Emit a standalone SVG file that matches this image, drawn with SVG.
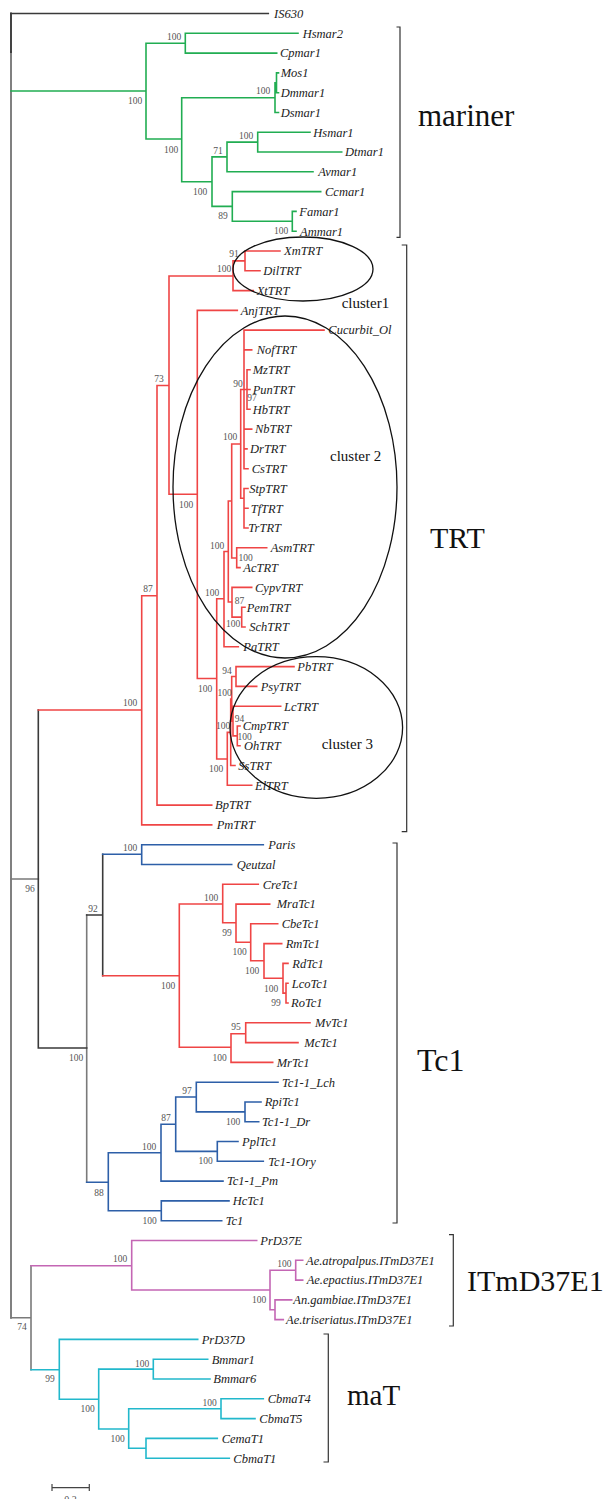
<svg xmlns="http://www.w3.org/2000/svg" width="605" height="1499" viewBox="0 0 605 1499">
<style>
.br{fill:none;stroke-width:1.6;stroke-linecap:square}
.k{stroke:#3a3a3a}.gy{stroke:#7a7a7a}.g{stroke:#21ad52}.r{stroke:#ef4545}.b{stroke:#2d5fa8}.m{stroke:#c466b4}.c{stroke:#22b8cc}
.lf{font-family:"Liberation Serif",serif;font-style:italic;font-size:12.5px;fill:#222}
.bs{font-family:"Liberation Serif",serif;font-size:9.5px;fill:#555;text-anchor:middle}
.big{font-family:"Liberation Serif",serif;font-size:30px;fill:#111}
.cl{font-family:"Liberation Serif",serif;font-size:15px;fill:#111}
.brk{fill:none;stroke:#333;stroke-width:1.2}
.ell{fill:none;stroke:#111;stroke-width:1.3}
</style>
<rect width="605" height="1499" fill="#fff"/>
<g id="connectors">
<path class="br gy" style="stroke-width:1.9" d="M11 52 V1317.7"/>
<path class="br gy" d="M11 879 H38.3 M86.7 915 V1182.3 M11 1317.7 H31 M31 1265.7 V1369.7"/>
<path class="br k" d="M11 13.5 H268.3 M38.3 710 V1048 M38.3 1048 H86.7 M86.7 915 H102.7 M102.7 854.3 V975.7"/>
<path class="br k" style="stroke-width:1.9" d="M11 13.5 V52"/>
<path class="br g" d="M11 91 H146 M146 43.2 V139 M146 43.2 H185.3 M185.3 33.3 V53.1 M185.3 33.3 H298 M185.3 53.1 H276.7 M146 139 H181.7 M181.7 97.7 V181.7 M181.7 97.7 H275 M275 82.8 V112.5 M275 82.8 H276.5 M276.5 72.9 V92.7 M276.5 72.9 H278.5 M276.5 92.7 H278.5 M275 112.5 H278.5 M181.7 181.7 H212 M212 156.9 V206.4 M212 156.9 H227 M227 142.1 V171.8 M227 142.1 H257.7 M257.7 132.2 V152 M257.7 132.2 H310 M257.7 152 H341.7 M227 171.8 H313 M212 206.4 H232.3 M232.3 191.6 V221.3 M232.3 191.6 H320.7 M232.3 221.3 H292.3 M292.3 211.4 V231.2 M292.3 211.4 H296 M292.3 231.2 H296"/>
<path class="br r" d="M38.3 710 H141.7 M141.7 595.7 V824.9 M141.7 824.9 H211.7 M141.7 595.7 H157 M157 385.5 V805.1 M157 805.1 H211.7 M157 385.5 H169 M169 276 V494.3 M169 276 H233 M233 260.9 V290.6 M233 260.9 H245 M245 251 V270.8 M245 251 H280 M245 270.8 H260 M233 290.6 H253.3 M169 494.3 H197.3 M197.3 310.4 V678.5 M197.3 310.4 H237.3 M197.3 678.5 H216.7 M216.7 598.8 V759 M216.7 598.8 H224 M224 551.5 V646.8 M224 646.8 H238.3 M224 551.5 H228.3 M228.3 501 V602 M228.3 501 H231.7 M231.7 444 V558 M231.7 444 H240.7 M240.7 389.5 V498.2 M240.7 389.5 H244 M244 330.1 V468.7 M244 330.1 H324 M244 349.9 H251.7 M244 389.5 H247 M247 369.7 V409.3 M247 369.7 H250 M247 389.5 H250 M247 409.3 H250 M244 429.1 H251.7 M244 448.9 H247 M244 468.7 H248 M240.7 498.2 H244 M244 488.5 V528 M244 488.5 H248 M244 508.3 H248 M244 528 H248 M231.7 558 H236.7 M236.7 547.8 V567.6 M236.7 547.8 H266.7 M236.7 567.6 H240 M228.3 602 H232 M232 587.4 V617.1 M232 587.4 H251.7 M232 617.1 H241.7 M241.7 607.2 V627 M241.7 607.2 H245 M241.7 627 H245 M216.7 759 H227.3 M227.3 732.4 V785.3 M227.3 785.3 H251.7 M227.3 732.4 H230.7 M230.7 699 V765.5 M230.7 765.5 H235 M230.7 699 H231.7 M231.7 676.5 V721.1 M231.7 676.5 H236 M236 666.6 V686.4 M236 666.6 H294 M236 686.4 H256.7 M231.7 721.1 H233 M233 706.2 V735.9 M233 706.2 H280.7 M233 735.9 H237.3 M237.3 726 V745.7 M237.3 726 H240 M237.3 745.7 H240"/>
<path class="br r" d="M102.7 975.7 H179.3 M179.3 904 V1047.3 M179.3 904 H222.7 M222.7 884.3 V922.7 M222.7 884.3 H258.3 M222.7 922.7 H236 M236 904.1 V942.3 M236 904.1 H269.7 M236 942.3 H250.7 M250.7 923.8 V960.7 M250.7 923.8 H277.7 M250.7 960.7 H264 M264 943.6 V978.3 M264 943.6 H281.7 M264 978.3 H283 M283 963.4 V993.1 M283 963.4 H288 M283 993.1 H286 M286 983.2 V1003 M286 983.2 H288 M286 1003 H288 M179.3 1047.3 H231 M231 1033.7 V1062.4 M231 1062.4 H272.7 M231 1033.7 H245.7 M245.7 1022.8 V1042.6 M245.7 1022.8 H310 M245.7 1042.6 H298"/>
<path class="br b" d="M102.7 854.3 H141.7 M141.7 844.7 V864.5 M141.7 844.7 H263.3 M141.7 864.5 H231.7 M86.7 1182.3 H108.3 M108.3 1152.7 V1210.8 M108.3 1152.7 H161 M161 1124.3 V1181.1 M161 1181.1 H223 M161 1124.3 H175.7 M175.7 1097 V1151.4 M175.7 1097 H196.3 M196.3 1082.2 V1111.9 M196.3 1082.2 H278 M196.3 1111.9 H245 M245 1102 V1121.7 M245 1102 H261 M245 1121.7 H258.7 M175.7 1151.4 H217.3 M217.3 1141.5 V1161.3 M217.3 1141.5 H238 M217.3 1161.3 H263.3 M108.3 1210.8 H161.3 M161.3 1200.9 V1220.7 M161.3 1200.9 H229 M161.3 1220.7 H221.7"/>
<path class="br m" d="M31 1265.7 H131.7 M131.7 1240.5 V1290 M131.7 1240.5 H256.7 M131.7 1290 H270 M270 1270.2 V1309.8 M270 1270.2 H295.7 M295.7 1260.3 V1280.1 M295.7 1260.3 H302.7 M295.7 1280.1 H302.7 M270 1309.8 H275 M275 1299.9 V1319.6 M275 1299.9 H291.7 M275 1319.6 H283.3"/>
<path class="br c" d="M31 1369.7 H59.3 M59.3 1339.4 V1399.3 M59.3 1339.4 H197.7 M59.3 1399.3 H98.7 M98.7 1369.1 V1429 M98.7 1369.1 H153.3 M153.3 1359.2 V1379 M153.3 1359.2 H207.7 M153.3 1379 H210 M98.7 1429 H128.7 M128.7 1408.7 V1448.3 M128.7 1408.7 H221 M221 1398.8 V1418.6 M221 1398.8 H263.3 M221 1418.6 H255 M128.7 1448.3 H146 M146 1438.4 V1458.2 M146 1438.4 H217.3 M146 1458.2 H229.3"/>
</g>
<g id="leaf-IS630"><text class="lf" x="274" y="17.8">IS630</text></g>
<g id="leaf-Hsmar2"><text class="lf" x="302.7" y="37.6">Hsmar2</text></g>
<g id="leaf-Cpmar1"><text class="lf" x="280" y="57.4">Cpmar1</text></g>
<g id="leaf-Mos1"><text class="lf" x="280.7" y="77.2">Mos1</text></g>
<g id="leaf-Dmmar1"><text class="lf" x="280.7" y="97">Dmmar1</text></g>
<g id="leaf-Dsmar1"><text class="lf" x="280.7" y="116.8">Dsmar1</text></g>
<g id="leaf-Hsmar1"><text class="lf" x="313.3" y="136.5">Hsmar1</text></g>
<g id="leaf-Dtmar1"><text class="lf" x="345" y="156.3">Dtmar1</text></g>
<g id="leaf-Avmar1"><text class="lf" x="318.3" y="176.1">Avmar1</text></g>
<g id="leaf-Ccmar1"><text class="lf" x="325" y="195.9">Ccmar1</text></g>
<g id="leaf-Famar1"><text class="lf" x="299.3" y="215.7">Famar1</text></g>
<g id="leaf-Ammar1"><text class="lf" x="300" y="235.5">Ammar1</text></g>
<g id="leaf-XmTRT"><text class="lf" x="284" y="255.3">XmTRT</text></g>
<g id="leaf-DilTRT"><text class="lf" x="263.3" y="275.1">DilTRT</text></g>
<g id="leaf-XtTRT"><text class="lf" x="256.7" y="294.9">XtTRT</text></g>
<g id="leaf-AnjTRT"><text class="lf" x="240.7" y="314.7">AnjTRT</text></g>
<g id="leaf-Cucurbit_Ol"><text class="lf" x="328.3" y="334.4">Cucurbit_Ol</text></g>
<g id="leaf-NofTRT"><text class="lf" x="256.7" y="354.2">NofTRT</text></g>
<g id="leaf-MzTRT"><text class="lf" x="252.7" y="374">MzTRT</text></g>
<g id="leaf-PunTRT"><text class="lf" x="252.7" y="393.8">PunTRT</text></g>
<g id="leaf-HbTRT"><text class="lf" x="252.7" y="413.6">HbTRT</text></g>
<g id="leaf-NbTRT"><text class="lf" x="255" y="433.4">NbTRT</text></g>
<g id="leaf-DrTRT"><text class="lf" x="250" y="453.2">DrTRT</text></g>
<g id="leaf-CsTRT"><text class="lf" x="251.7" y="473">CsTRT</text></g>
<g id="leaf-StpTRT"><text class="lf" x="249.3" y="492.8">StpTRT</text></g>
<g id="leaf-TfTRT"><text class="lf" x="250.7" y="512.6">TfTRT</text></g>
<g id="leaf-TrTRT"><text class="lf" x="248.3" y="532.3">TrTRT</text></g>
<g id="leaf-AsmTRT"><text class="lf" x="270.7" y="552.1">AsmTRT</text></g>
<g id="leaf-AcTRT"><text class="lf" x="243.3" y="571.9">AcTRT</text></g>
<g id="leaf-CypvTRT"><text class="lf" x="255" y="591.7">CypvTRT</text></g>
<g id="leaf-PemTRT"><text class="lf" x="246.7" y="611.5">PemTRT</text></g>
<g id="leaf-SchTRT"><text class="lf" x="249.3" y="631.3">SchTRT</text></g>
<g id="leaf-PaTRT"><text class="lf" x="243.3" y="651.1">PaTRT</text></g>
<g id="leaf-PbTRT"><text class="lf" x="297.3" y="670.9">PbTRT</text></g>
<g id="leaf-PsyTRT"><text class="lf" x="260.7" y="690.7">PsyTRT</text></g>
<g id="leaf-LcTRT"><text class="lf" x="284" y="710.5">LcTRT</text></g>
<g id="leaf-CmpTRT"><text class="lf" x="242.7" y="730.3">CmpTRT</text></g>
<g id="leaf-OhTRT"><text class="lf" x="244" y="750">OhTRT</text></g>
<g id="leaf-SsTRT"><text class="lf" x="238.3" y="769.8">SsTRT</text></g>
<g id="leaf-ElTRT"><text class="lf" x="255" y="789.6">ElTRT</text></g>
<g id="leaf-BpTRT"><text class="lf" x="215" y="809.4">BpTRT</text></g>
<g id="leaf-PmTRT"><text class="lf" x="216.7" y="829.2">PmTRT</text></g>
<g id="leaf-Paris"><text class="lf" x="268.3" y="849">Paris</text></g>
<g id="leaf-Qeutzal"><text class="lf" x="236.7" y="868.8">Qeutzal</text></g>
<g id="leaf-CreTc1"><text class="lf" x="262.7" y="888.6">CreTc1</text></g>
<g id="leaf-MraTc1"><text class="lf" x="276.7" y="908.4">MraTc1</text></g>
<g id="leaf-CbeTc1"><text class="lf" x="281.7" y="928.1">CbeTc1</text></g>
<g id="leaf-RmTc1"><text class="lf" x="285.7" y="947.9">RmTc1</text></g>
<g id="leaf-RdTc1"><text class="lf" x="292.3" y="967.7">RdTc1</text></g>
<g id="leaf-LcoTc1"><text class="lf" x="291.7" y="987.5">LcoTc1</text></g>
<g id="leaf-RoTc1"><text class="lf" x="291" y="1007.3">RoTc1</text></g>
<g id="leaf-MvTc1"><text class="lf" x="315" y="1027.1">MvTc1</text></g>
<g id="leaf-McTc1"><text class="lf" x="304.3" y="1046.9">McTc1</text></g>
<g id="leaf-MrTc1"><text class="lf" x="276.7" y="1066.7">MrTc1</text></g>
<g id="leaf-Tc1-1_Lch"><text class="lf" x="282" y="1086.5">Tc1-1_Lch</text></g>
<g id="leaf-RpiTc1"><text class="lf" x="264.7" y="1106.3">RpiTc1</text></g>
<g id="leaf-Tc1-1_Dr"><text class="lf" x="262" y="1126">Tc1-1_Dr</text></g>
<g id="leaf-PplTc1"><text class="lf" x="242" y="1145.8">PplTc1</text></g>
<g id="leaf-Tc1-1Ory"><text class="lf" x="268.3" y="1165.6">Tc1-1Ory</text></g>
<g id="leaf-Tc1-1_Pm"><text class="lf" x="227" y="1185.4">Tc1-1_Pm</text></g>
<g id="leaf-HcTc1"><text class="lf" x="232.7" y="1205.2">HcTc1</text></g>
<g id="leaf-Tc1"><text class="lf" x="225.7" y="1225">Tc1</text></g>
<g id="leaf-PrD37E"><text class="lf" x="260.3" y="1244.8">PrD37E</text></g>
<g id="leaf-Ae-atropalpus"><text class="lf" x="306" y="1264.6">Ae.atropalpus.ITmD37E1</text></g>
<g id="leaf-Ae-epactius"><text class="lf" x="306.7" y="1284.4">Ae.epactius.ITmD37E1</text></g>
<g id="leaf-An-gambiae"><text class="lf" x="293.3" y="1304.2">An.gambiae.ITmD37E1</text></g>
<g id="leaf-Ae-triseriatus"><text class="lf" x="286" y="1323.9">Ae.triseriatus.ITmD37E1</text></g>
<g id="leaf-PrD37D"><text class="lf" x="201.7" y="1343.7">PrD37D</text></g>
<g id="leaf-Bmmar1"><text class="lf" x="211.7" y="1363.5">Bmmar1</text></g>
<g id="leaf-Bmmar6"><text class="lf" x="213.3" y="1383.3">Bmmar6</text></g>
<g id="leaf-CbmaT4"><text class="lf" x="267.7" y="1403.1">CbmaT4</text></g>
<g id="leaf-CbmaT5"><text class="lf" x="259.3" y="1422.9">CbmaT5</text></g>
<g id="leaf-CemaT1"><text class="lf" x="221.7" y="1442.7">CemaT1</text></g>
<g id="leaf-CbmaT1"><text class="lf" x="233.3" y="1462.5">CbmaT1</text></g>
<g id="bootstrap">
<text class="bs" x="135" y="104.3">100</text>
<text class="bs" x="174" y="39.5">100</text>
<text class="bs" x="171" y="153">100</text>
<text class="bs" x="263" y="94.3">100</text>
<text class="bs" x="218" y="154.3">71</text>
<text class="bs" x="246" y="139">100</text>
<text class="bs" x="200" y="195.3">100</text>
<text class="bs" x="223" y="219.3">89</text>
<text class="bs" x="281" y="234">100</text>
<text class="bs" x="130" y="706.3">100</text>
<text class="bs" x="148" y="591.6">87</text>
<text class="bs" x="159" y="382.3">73</text>
<text class="bs" x="224" y="272.3">100</text>
<text class="bs" x="234" y="257.3">91</text>
<text class="bs" x="186" y="507.8">100</text>
<text class="bs" x="205" y="692.3">100</text>
<text class="bs" x="212" y="596.3">100</text>
<text class="bs" x="216" y="771.8">100</text>
<text class="bs" x="238" y="387">90</text>
<text class="bs" x="252" y="401.1">97</text>
<text class="bs" x="230" y="440.3">100</text>
<text class="bs" x="217" y="548.6">100</text>
<text class="bs" x="245.5" y="560.6">100</text>
<text class="bs" x="239.5" y="603.6">87</text>
<text class="bs" x="233" y="627.3">100</text>
<text class="bs" x="227" y="673.6">94</text>
<text class="bs" x="224.5" y="696.3">100</text>
<text class="bs" x="239.5" y="722">94</text>
<text class="bs" x="223" y="729.3">100</text>
<text class="bs" x="244.5" y="739.5">100</text>
<text class="bs" x="30" y="891.6">96</text>
<text class="bs" x="76" y="1060.8">100</text>
<text class="bs" x="93" y="912.3">92</text>
<text class="bs" x="130" y="851">100</text>
<text class="bs" x="168" y="988.6">100</text>
<text class="bs" x="211" y="900.6">100</text>
<text class="bs" x="227" y="936.3">99</text>
<text class="bs" x="239.5" y="955.3">100</text>
<text class="bs" x="252" y="974">100</text>
<text class="bs" x="271" y="991.6">100</text>
<text class="bs" x="276" y="1006">99</text>
<text class="bs" x="236" y="1030.3">95</text>
<text class="bs" x="219.5" y="1060.5">100</text>
<text class="bs" x="99" y="1195.5">88</text>
<text class="bs" x="149" y="1149.6">100</text>
<text class="bs" x="166" y="1121.3">87</text>
<text class="bs" x="187" y="1093.6">97</text>
<text class="bs" x="233" y="1124.8">100</text>
<text class="bs" x="205.7" y="1164.1">100</text>
<text class="bs" x="149.7" y="1223.8">100</text>
<text class="bs" x="22" y="1330.3">74</text>
<text class="bs" x="120" y="1262.1">100</text>
<text class="bs" x="259" y="1303.1">100</text>
<text class="bs" x="284.3" y="1266.8">100</text>
<text class="bs" x="50" y="1382.1">99</text>
<text class="bs" x="87.7" y="1412.1">100</text>
<text class="bs" x="142" y="1366.5">100</text>
<text class="bs" x="117.7" y="1442.3">100</text>
<text class="bs" x="209.7" y="1406.1">100</text>
</g>
<g id="cluster1"><ellipse class="ell" cx="303" cy="269" rx="70" ry="32"/><text class="cl" x="341.7" y="308">cluster1</text></g>
<g id="cluster2"><ellipse class="ell" cx="285" cy="487" rx="112" ry="171"/><text class="cl" x="330" y="460.7">cluster 2</text></g>
<g id="cluster3"><ellipse class="ell" cx="316.3" cy="727.5" rx="86.3" ry="70.8"/><text class="cl" x="321.7" y="749.3">cluster 3</text></g>
<g id="clade-mariner"><path class="brk" d="M396.5 27 H400 V237.3 H396.5"/><text class="big" x="418" y="126" style="font-size:31px">mariner</text></g>
<g id="clade-TRT"><path class="brk" d="M401.7 245 H406.7 V831.7 H401.7"/><text class="big" x="430" y="548">TRT</text></g>
<g id="clade-Tc1"><path class="brk" d="M392.5 843 H397 V1223 H392.5"/><text class="big" x="417" y="1071" style="font-size:32px">Tc1</text></g>
<g id="clade-ITmD37E1"><path class="brk" d="M449 1234.7 H453.3 V1326 H449"/><text class="big" x="467" y="1291">ITmD37E1</text></g>
<g id="clade-maT"><path class="brk" d="M323.5 1334 H328.3 V1462 H323.5"/><text class="big" x="347" y="1405" style="font-size:29px">maT</text></g>
<g id="scale-bar"><path class="brk" style="stroke:#444" d="M52 1487.7 H89.3 M52 1484 V1491 M89.3 1484 V1491"/><text class="bs" x="70.6" y="1502.5" style="font-size:10px">0.2</text></g>
</svg>
